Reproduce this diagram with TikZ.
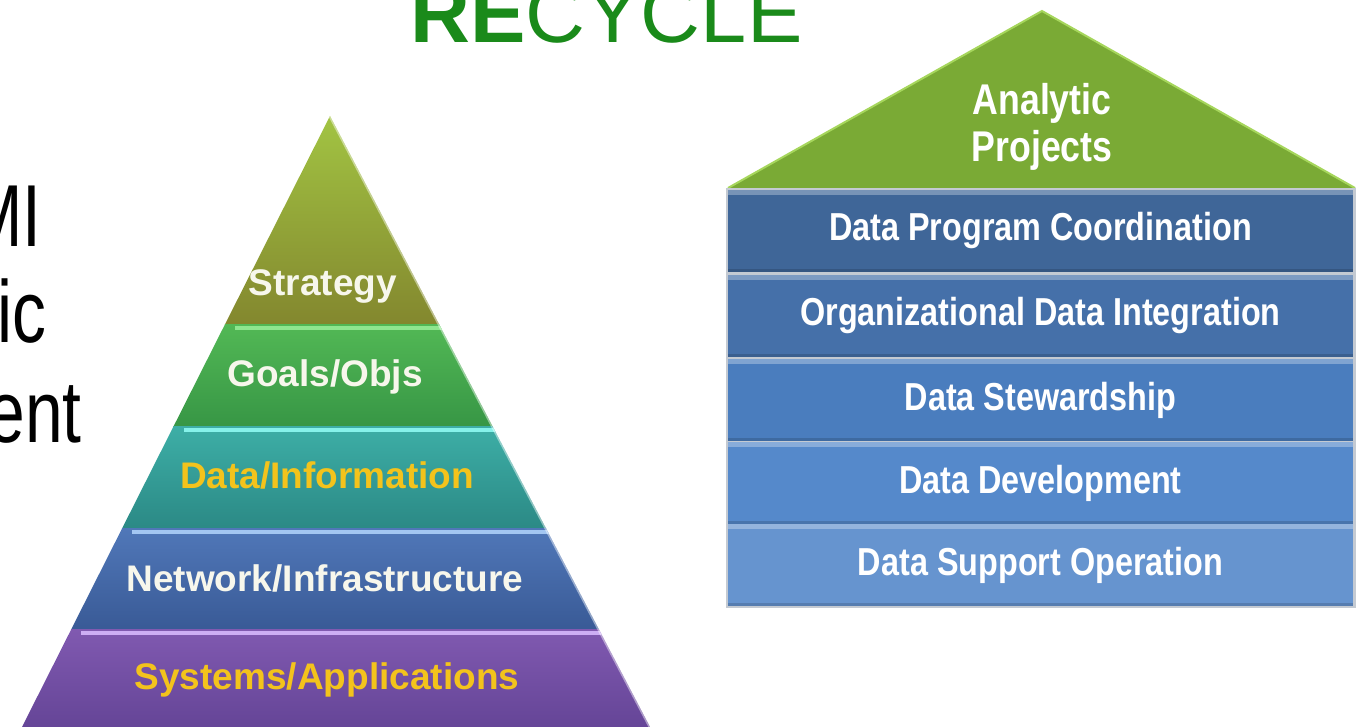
\documentclass[tikz,border=0pt]{standalone}
\usepackage{fontspec}
\setmainfont{Liberation Sans}
\newfontfamily\narrowfont[FakeStretch=0.83]{Liberation Sans}
\newfontfamily\leftfont[FakeStretch=0.77]{Liberation Sans}
\definecolor{stratTop}{HTML}{A2C443}
\definecolor{stratBot}{HTML}{83872E}
\definecolor{goalsTop}{HTML}{52B855}
\definecolor{goalsBot}{HTML}{379645}
\definecolor{goalsHi}{HTML}{8FE68F}
\definecolor{dataTop}{HTML}{3DAEA6}
\definecolor{dataBot}{HTML}{2B8985}
\definecolor{dataHi}{HTML}{86F2EA}
\definecolor{netTop}{HTML}{5077B8}
\definecolor{netBot}{HTML}{395A96}
\definecolor{netHi}{HTML}{A3C6F2}
\definecolor{sysTop}{HTML}{8059B0}
\definecolor{sysBot}{HTML}{654597}
\definecolor{sysHi}{HTML}{CDAEF4}
\definecolor{goldtext}{HTML}{F3C31C}
\definecolor{creamtext}{HTML}{F7F7EC}
\definecolor{roofgreen}{HTML}{7AAA35}
\definecolor{rooflight}{HTML}{A6D65C}
\definecolor{rowgap}{HTML}{C4CAD2}
\definecolor{rowA}{HTML}{3F6698}
\definecolor{rowB}{HTML}{4570A9}
\definecolor{rowC}{HTML}{4A7DBE}
\definecolor{rowD}{HTML}{5589CB}
\definecolor{rowE}{HTML}{6694CF}
\definecolor{recyclegreen}{HTML}{1A8A1A}
\begin{document}
\begin{tikzpicture}[x=0.5pt,y=0.5pt,
        bandtext/.style={inner sep=0pt,font=\fontsize{18.5}{20}\selectfont\bfseries},
        lefttext/.style={inner sep=0pt,anchor=base east,font=\leftfont\fontsize{44}{44}\selectfont},
        rowbox/.style={minimum width=312.5pt,minimum height=41pt,inner sep=0pt,text=white,
            font=\narrowfont\bfseries\fontsize{19.5}{22}\selectfont,
            path picture={
                \fill[white,opacity=0.3] (path picture bounding box.north west) rectangle ([yshift=-2.5pt]path picture bounding box.north east);
                \fill[black,opacity=0.15] (path picture bounding box.south west) rectangle ([yshift=1.5pt]path picture bounding box.south east);
            }},
        rooftext/.style={align=center,inner sep=0pt,text=white,
            font=\narrowfont\bfseries\fontsize{21.5}{23.5}\selectfont}]
                        \useasboundingbox (0,0) rectangle (1359,727);
                        \clip (0,0) rectangle (1359,727);
                        \node[anchor=base west,inner sep=0pt,text=recyclegreen,font=\fontsize{41.5}{41.5}\selectfont] (recycle) at (410,684) {\textbf{RE}CYCLE};
                        \node[lefttext] (mi) at (42,480) {MI};
                        \node[lefttext] (ic) at (47,384) {ic};
                        \node[lefttext] (ent) at (82,284) {ent};
                        \coordinate (apex) at (330,611);
                        \coordinate (bl) at (22,0);
                        \coordinate (br) at (650,0);
                        \begin{scope}
                            \clip (apex) -- (bl) -- (br) -- cycle;
                            \shade[top color=stratTop,bottom color=stratBot] (0,402) rectangle (700,611);
                            \shade[top color=goalsTop,bottom color=goalsBot] (0,300) rectangle (700,402);
                            \shade[top color=dataTop,bottom color=dataBot] (0,198) rectangle (700,300);
                            \shade[top color=netTop,bottom color=netBot] (0,97) rectangle (700,198);
                            \shade[top color=sysTop,bottom color=sysBot] (0,0) rectangle (700,97);
                            \draw[goalsHi,line width=2pt] (235,399) -- (700,399);
                            \draw[dataHi,line width=2pt] (184,297) -- (700,297);
                            \draw[netHi,line width=2pt] (132,195) -- (700,195);
                            \draw[sysHi,line width=2pt] (81,94) -- (700,94);
                            \draw[white,opacity=0.45,line width=1.5pt] (apex) -- (br);
                        \end{scope}
                        \node[bandtext,text=creamtext] (strategy) at (323,440) {Strategy};
                        \node[bandtext,text=creamtext] (goals) at (325,350) {Goals/Objs};
                        \node[bandtext,text=goldtext] (data) at (327,252) {Data/Information};
                        \node[bandtext,text=creamtext] (network) at (325,149) {Network/Infrastructure};
                        \node[bandtext,text=goldtext] (systems) at (327,47) {Systems/Applications};
                        \coordinate (roofTop) at (1042,716);
                        \coordinate (roofL) at (728,539);
                        \coordinate (roofR) at (1355,539);
                        \fill[roofgreen] (roofTop) -- (roofL) -- (roofR) -- cycle;
                        \draw[rooflight,line width=1pt] (roofL) -- (roofTop) -- (roofR);
                        \node[rooftext] (projects) at (1042,600) {Analytic\\Projects};
                        \fill[rowgap] (726,119) rectangle (1356,539);
                        \node[rowbox,fill=rowA] (coordination) at (1040.5,496) {Data Program Coordination};
                        \node[rowbox,fill=rowB] (integration) at (1040.5,411) {Organizational Data Integration};
                        \node[rowbox,fill=rowC] (stewardship) at (1040.5,327) {Data Stewardship};
                        \node[rowbox,fill=rowD] (development) at (1040.5,244) {Data Development};
                        \node[rowbox,fill=rowE] (support) at (1040.5,162) {Data Support Operation};
                    \end{tikzpicture}
\end{document}
